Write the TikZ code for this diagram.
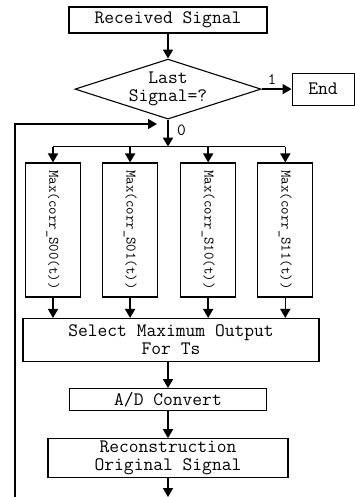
\documentclass[tikz,border=0pt]{standalone}
\usepackage{tikz}
\usetikzlibrary{arrows.meta, positioning, shapes.geometric, calc}

\begin{document}
\begin{tikzpicture}[
      x=1pt, y=-1pt,
      node distance=25pt and 30pt,
      block/.style={rectangle, draw, line width=1.1pt, inner sep=0pt,
                    minimum width=198pt, minimum height=26pt, align=center},
      decision/.style={diamond, draw, line width=1.1pt, inner sep=0pt,
                    minimum width=186pt, minimum height=60pt},
      maxbox/.style={rectangle, draw, line width=1.1pt, inner sep=0pt,
                    minimum width=55pt, minimum height=134pt},
      corr/.style={rotate=-90, font=\ttfamily\fontsize{14.5}{16}\selectfont},
      arrow/.style={-{Triangle[length=9pt,width=10pt]}, line width=1.6pt},
      line/.style={line width=1.6pt},
      every node/.style={font=\ttfamily\fontsize{19}{18}\selectfont}
    ]
    \useasboundingbox (0,0) rectangle (355,497);

    \node[block] (recv) at (168,20) {Received Signal};
    \node[decision, below=25pt of recv] (dec) {};
    \node[align=center] (decText) at (dec) {Last\\Signal=?};
    \node[block, right=30pt of dec, minimum width=62pt, minimum height=32pt] (end) {End};

    % four correlator branches
    \node[maxbox] (m1) at (53,230) {};
    \node[maxbox, right=21pt of m1] (m2) {};
    \node[maxbox, right=22pt of m2] (m3) {};
    \node[maxbox, right=21pt of m3] (m4) {};
    \node[corr] at (m1) {Max(corr\_S00(t))};
    \node[corr] at (m2) {Max(corr\_S01(t))};
    \node[corr] at (m3) {Max(corr\_S10(t))};
    \node[corr] at (m4) {Max(corr\_S11(t))};

    \node[block, minimum width=296pt, minimum height=43pt] (sel) at (171,340) {Select Maximum Output\\For Ts};
    \node[block, below=26pt of sel, xshift=-3pt, minimum width=197pt, minimum height=22pt] (ad) {A/D Convert};
    \node[block, below=27pt of ad, minimum width=240pt, minimum height=39pt] (recon) {Reconstruction\\Original Signal};

    \coordinate (split) at ($(dec.south)+(0,27)$);
    \coordinate (fbIn) at (157,124);
    \coordinate (fbTop) at (15,124);
    \coordinate (fbBot) at (15,497);
    \coordinate (out) at (168,497);

    \draw[arrow] (recv) -- (dec);
    \draw[arrow] (dec.east) -- node[above, pos=0.35, font=\ttfamily\fontsize{16}{16}\selectfont]{1} (end.west);
    \draw[arrow] (dec.south) -- node[right, pos=0.4, xshift=5pt, font=\ttfamily\fontsize{17}{16}\selectfont]{0} (split);
    \draw[line] (m1.north |- split) -- (m4.north |- split);
    \draw[arrow] (m1.north |- split) -- (m1.north);
    \draw[arrow] (m2.north |- split) -- (m2.north);
    \draw[arrow] (m3.north |- split) -- (m3.north);
    \draw[arrow] (m4.north |- split) -- (m4.north);

    \draw[arrow] (m1.south) -- (m1.south |- sel.north);
    \draw[arrow] (m2.south) -- (m2.south |- sel.north);
    \draw[arrow] (m3.south) -- (m3.south |- sel.north);
    \draw[arrow] (m4.south) -- (m4.south |- sel.north);

    \draw[arrow] (ad.north |- sel.south) -- (ad.north);
    \draw[arrow] (ad.south) -- (recon.north);
    \draw[arrow] (recon.south) -- (out);

    % loop back to the decision
    \draw[arrow] (fbBot) -- (fbTop) -- (fbIn);
\end{tikzpicture}
\end{document}
